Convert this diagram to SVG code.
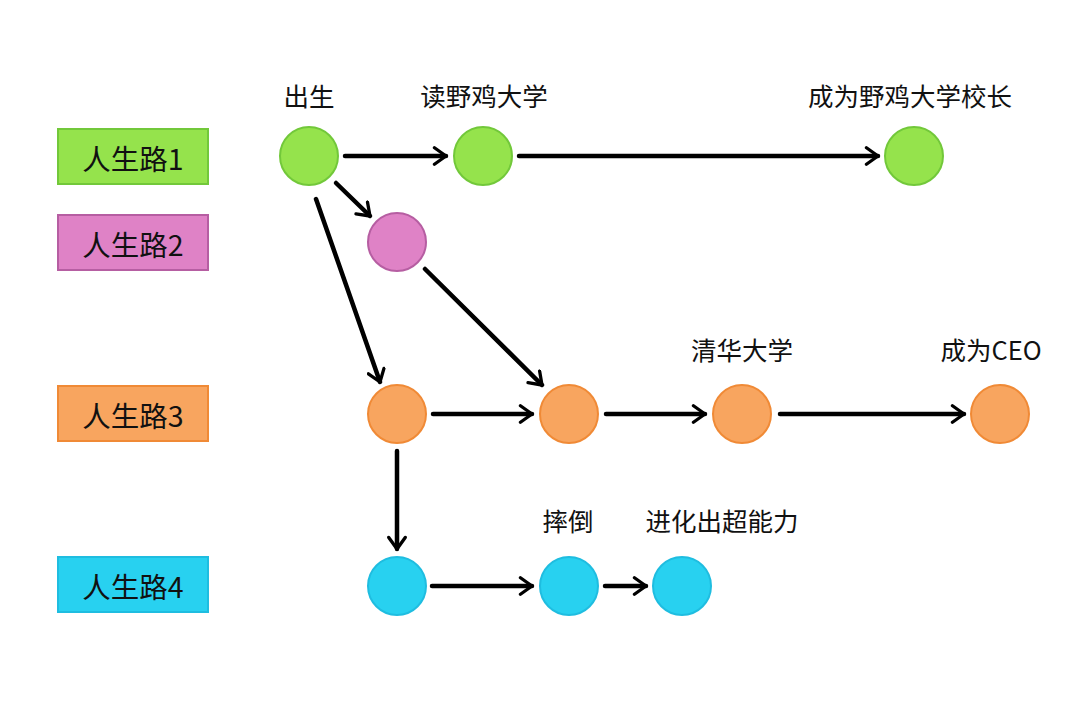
<svg xmlns="http://www.w3.org/2000/svg" width="1080" height="702" viewBox="0 0 1080 702">
<style>
text{font-family:"Noto Sans CJK SC","Noto Sans",sans-serif;fill:#111;}
.lbl{font-size:25.5px;text-anchor:middle;}
.box{font-size:28.5px;text-anchor:middle;dominant-baseline:central;}
.g{fill:#95e34c;stroke:#72c83a;stroke-width:2;}
.p{fill:#df82c6;stroke:#b65ea2;stroke-width:2;}
.o{fill:#f8a55f;stroke:#f08a36;stroke-width:2;}
.b{fill:#28d1f0;stroke:#1fbde0;stroke-width:2;}
.e{stroke:#000;stroke-width:4.5;fill:none;marker-end:url(#ah);stroke-linecap:round;}
</style>
<defs>
<marker id="ah" viewBox="0 0 12 12" refX="10" refY="6" markerWidth="4.4" markerHeight="4.4" orient="auto" markerUnits="strokeWidth">
<path d="M3,1 L10,6 L3,11" fill="none" stroke="#000" stroke-width="2" stroke-linecap="round" stroke-linejoin="round"/>
</marker>
</defs>
<rect width="1080" height="702" fill="#fff"/>
<g id="lane1"><rect class="g" x="58" y="129" width="150" height="55"/><text class="box" x="133" y="157">人生路1</text></g>
<g id="lane2"><rect class="p" x="58" y="215" width="150" height="55"/><text class="box" x="133" y="243">人生路2</text></g>
<g id="lane3"><rect class="o" x="58" y="386" width="150" height="55"/><text class="box" x="133" y="414">人生路3</text></g>
<g id="lane4"><rect class="b" x="58" y="557" width="150" height="55"/><text class="box" x="133" y="585">人生路4</text></g>
<g id="connectors">
<line class="e" x1="345" y1="156" x2="446" y2="156"/>
<line class="e" x1="519" y1="156" x2="878" y2="156"/>
<line class="e" x1="336" y1="183" x2="370" y2="216"/>
<line class="e" x1="316" y1="199" x2="380" y2="382"/>
<line class="e" x1="425" y1="269" x2="542" y2="385"/>
<line class="e" x1="433" y1="414" x2="532" y2="414"/>
<line class="e" x1="606" y1="414" x2="705" y2="414"/>
<line class="e" x1="780" y1="414" x2="964" y2="414"/>
<line class="e" x1="397" y1="451" x2="397" y2="549"/>
<line class="e" x1="432" y1="586" x2="532" y2="586"/>
<line class="e" x1="605" y1="586" x2="646" y2="586"/>
</g>
<g id="n-birth"><circle class="g" cx="309" cy="156" r="29"/><text class="lbl" x="309" y="106">出生</text></g>
<g id="n-wild"><circle class="g" cx="483" cy="156" r="29"/><text class="lbl" x="484" y="106">读野鸡大学</text></g>
<g id="n-president"><circle class="g" cx="914" cy="156" r="29"/><text class="lbl" x="910" y="106">成为野鸡大学校长</text></g>
<g id="n-pink"><circle class="p" cx="397" cy="242" r="29"/></g>
<g id="n-o1"><circle class="o" cx="397" cy="414" r="29"/></g>
<g id="n-o2"><circle class="o" cx="569" cy="414" r="29"/></g>
<g id="n-tsinghua"><circle class="o" cx="742" cy="414" r="29"/><text class="lbl" x="742" y="360">清华大学</text></g>
<g id="n-ceo"><circle class="o" cx="1000" cy="414" r="29"/><text class="lbl" x="991" y="360">成为CEO</text></g>
<g id="n-b1"><circle class="b" cx="397" cy="586" r="29"/></g>
<g id="n-fall"><circle class="b" cx="569" cy="586" r="29"/><text class="lbl" x="568" y="531">摔倒</text></g>
<g id="n-power"><circle class="b" cx="682" cy="586" r="29"/><text class="lbl" x="722" y="531">进化出超能力</text></g>
</svg>
